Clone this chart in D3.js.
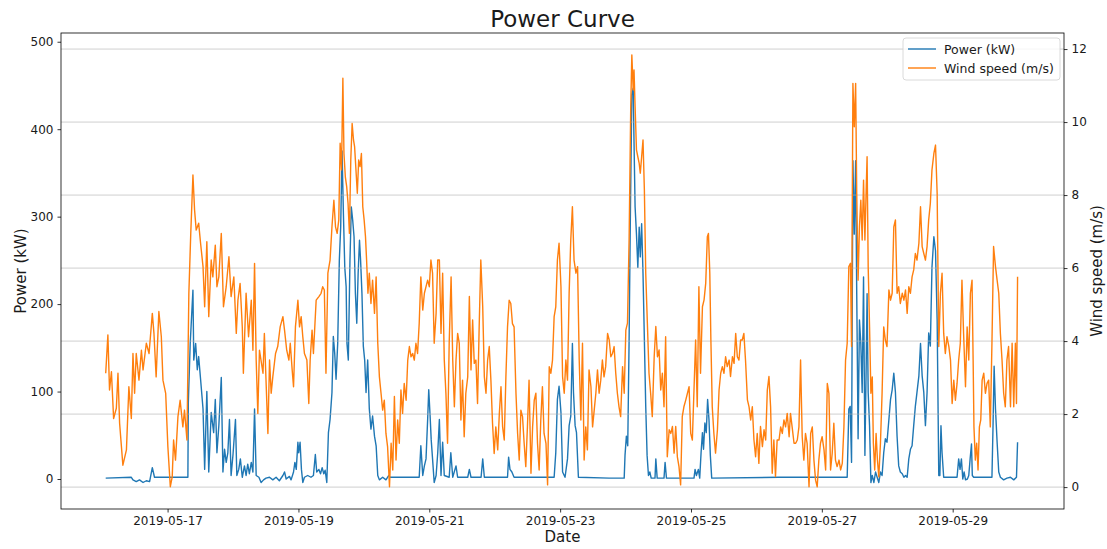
<!DOCTYPE html>
<html><head><meta charset="utf-8">
<script src="https://cdn.jsdelivr.net/npm/d3@7"></script>
<style>
body{margin:0;background:#fff}
svg{display:block}
text{font-family:"DejaVu Sans",sans-serif;fill:#1a1a1a}
</style>
</head><body>
<svg id="chart" width="1107" height="549"></svg>
<script>
// ---------------- DATA ----------------
const chartTitle = "Power Curve";
const xLabel = "Date";
const leftLabel = "Power (kW)";
const rightLabel = "Wind speed (m/s)";
const seriesNames = ["Power (kW)", "Wind speed (m/s)"];
const seriesColors = ["#1f77b4", "#ff7f0e"];
// time of every point = hours after this reference
const referenceTime = "2019-05-17T00:00:00";
const xTickLabels = ["2019-05-17","2019-05-19","2019-05-21","2019-05-23","2019-05-25","2019-05-27","2019-05-29"];
const powerTicks = [0,100,200,300,400,500];
const windTicks = [0,2,4,6,8,10,12];

// [hours after referenceTime, power kW]
const powerData = [
[-22.7,1],[-13.3,2],[-12.7,-1],[-11.5,-3],[-10.3,-1],[-9.0,-4],[-7.8,-2],[-6.6,-3],[-5.6,13],[-4.8,2],[7.45,2],[7.6,87],[8.3,155],[9.3,216],[9.6,136],[10.3,155],[10.9,125],[11.4,140],[12.1,114],[13.0,80],[13.6,11],[14.4,100],[15.1,8],[16.0,76],[16.9,53],[17.5,91],[18.1,30],[18.8,61],[19.7,116],[20.3,8],[20.9,34],[21.5,19],[22.1,30],[22.7,68],[23.3,4],[24.0,28],[24.9,68],[25.4,4],[26.1,11],[26.7,23],[27.4,2],[28.2,15],[28.8,4],[29.4,17],[30.0,6],[30.7,19],[31.3,8],[31.9,80],[32.5,4],[33.5,2],[34.3,-4],[35.2,-1],[36.1,1],
[37.4,2],[38.6,-1],[39.8,2],[41.0,-2],[42.3,4],[42.9,8],[43.5,0],[44.7,3],[45.3,-1],[46.2,8],[46.7,19],[47.2,11],[47.8,42],[48.1,30],[48.6,42],[49.1,11],[49.6,-4],[50.2,2],[51.4,4],[52.6,2],[53.5,4],[54.2,28],[54.7,8],[55.5,11],[56.1,6],[56.7,13],[57.3,6],[57.8,10],[58.4,-4],[59.0,53],[59.6,68],[60.3,99],[60.8,163],[61.3,144],[61.8,114],[62.4,155],[63.0,250],[63.5,288],[64.0,375],[64.5,303],[65.0,242],[65.5,220],[65.8,155],[66.3,136],[66.9,250],[67.4,311],[67.9,296],[68.4,277],[68.9,212],[69.4,178],[69.9,235],[70.4,273],[70.8,250],[71.3,212],[71.8,152],[72.3,136],[72.8,99],[73.4,136],[74.0,80],[74.6,57],[75.2,72],[75.9,49],[76.5,38],[77.1,4],[77.7,-1],[78.9,2],[80.1,-1],[81.1,4],[81.6,2],[92.3,2],[92.9,38],[93.6,4],[94.2,15],[94.8,23],[95.4,68],[95.8,102],[96.3,72],[96.7,45],[97.2,23],[97.8,-4],[98.5,4],[99.1,30],
[99.7,68],[100.3,4],[100.9,42],[101.5,4],[103.3,2],[103.9,30],[104.6,2],[105.8,15],[106.4,2],[110.1,2],[110.7,11],[111.3,2],[115.0,2],[115.6,23],[116.2,2],[124.7,2],[125.1,25],[125.6,11],[126.3,8],[127.1,2],[141.8,2],[142.4,30],[143.0,91],[143.6,106],[144.3,76],[144.9,8],[145.8,2],[146.7,23],[147.3,61],[147.9,72],[148.5,155],[148.9,99],[149.5,61],[150.0,53],[150.7,2],
[162.0,1],[167.5,1],[167.8,27],[168.3,49],[168.8,38],[169.3,159],[169.8,311],[170.3,439],[170.8,447],[171.1,386],[171.5,311],[172.0,280],[172.5,242],[173.0,288],[173.4,254],[173.9,292],[174.4,235],[174.9,159],[175.4,83],[175.9,27],[176.4,4],[176.9,8],[177.4,1],[178.8,1],[179.1,23],[179.6,1],[182.1,1],[182.5,19],[183.0,1],[193.1,1],[193.5,11],[194.0,4],[194.7,11],[195.2,1],[195.7,30],[196.2,53],[196.6,34],[197.1,64],[197.6,53],[198.1,91],[198.6,68],[199.1,27],[199.6,1],
[224.3,2],[249.3,2],[249.9,80],[250.4,83],[250.9,19],[251.4,364],[251.9,280],[252.4,364],[252.8,212],[253.3,46],[253.8,182],[254.3,155],[254.8,99],[255.3,231],[255.8,27],[256.3,136],[256.6,212],[257.0,99],[257.5,61],[258.0,-4],[258.5,4],[259.1,-4],[259.7,8],[260.3,2],[260.9,-4],[261.5,8],[262.1,4],[262.7,30],[263.3,46],[263.9,42],[264.6,68],[265.2,91],[265.8,102],[266.4,121],[267.0,99],[267.6,49],[268.2,15],[268.8,8],[269.5,6],[270.1,2],[270.7,4],[271.3,2],[271.9,23],[272.5,34],[273.1,38],[273.7,61],[274.3,83],[274.9,99],[275.6,118],[276.2,155],[276.8,118],[277.4,99],[278.0,61],[278.6,99],[279.2,167],[279.8,152],[280.4,242],[281.1,277],[281.7,261],[282.3,182],[282.9,4],
[283.3,4],[283.7,61],[284.1,30],[284.7,2],[289.6,2],[290.2,23],[290.7,11],[291.2,23],[291.7,0],[292.2,8],[292.7,-1],[293.4,0],[293.9,4],[294.4,23],[294.9,40],[295.2,4],[295.7,2],[302.4,2],[302.8,61],[303.2,129],[303.7,80],[304.3,42],[304.9,8],[305.5,2],[306.7,-1],[307.9,1],[309.2,2],[310.4,-1],[311.4,2],[311.8,42]
];

// [hours after referenceTime, wind speed m/s]
const windData = [
[-22.7,3.12],[-21.9,4.17],[-21.3,2.66],[-20.6,3.16],[-19.8,1.88],[-18.8,2.16],[-18.2,3.12],[-17.6,1.75],[-16.4,0.60],[-15.1,1.02],[-14.2,2.75],[-13.3,1.88],[-12.7,3.66],[-12.1,2.57],[-11.5,3.66],[-10.5,2.93],[-9.6,3.75],[-9.0,3.21],[-7.8,3.94],[-6.8,3.66],[-5.6,4.76],[-5.0,4.21],[-4.2,3.02],[-3.2,4.81],[-2.3,4.12],[-1.7,2.93],[-0.7,2.57],[0.1,1.11],[1.0,0.01],[1.7,0.28],[2.2,1.29],[2.9,0.74],[3.8,1.93],[4.6,2.38],[5.6,1.65],[6.2,2.11],[7.1,1.29],[7.8,5.31],[8.5,6.95],[9.3,8.55],[9.9,7.59],[10.5,7.04],[11.4,7.23],[12.1,6.68],[13.0,6.04],[13.6,4.94],[14.4,6.72],[15.1,4.67],[16.0,6.22],[16.6,5.76],[17.5,6.63],[18.1,5.49],[18.8,5.76],[19.7,6.95],[20.5,4.94],[21.5,5.49],[22.5,6.31],[23.3,5.22],[24.3,5.76],[25.2,4.21],[25.8,5.12],[26.6,5.58],[27.4,4.39],[27.8,3.12],[28.8,5.31],[29.7,4.12],[30.7,5.12],[31.3,3.75],[31.9,6.13],[32.5,3.48],[33.1,2.02],[33.7,3.75],[35.0,3.12],[35.5,4.21],[36.8,1.47],
[37.4,3.48],[38.0,2.57],[38.6,3.02],[39.6,3.66],[40.4,3.85],[41.3,4.39],[42.3,4.67],[42.9,4.30],[43.7,3.75],[44.5,3.48],[45.0,3.94],[45.7,3.21],[46.2,2.75],[46.9,4.39],[47.8,5.12],[48.4,4.39],[49.0,4.67],[49.6,4.12],[50.2,3.66],[51.1,3.48],[51.8,2.29],[52.3,3.48],[53.0,4.30],[53.5,3.66],[54.5,5.12],[55.5,5.22],[56.3,5.31],[56.9,5.49],[57.5,5.40],[58.1,3.12],[58.8,5.86],[59.6,6.22],[60.3,7.13],[61.0,7.86],[61.6,7.13],[62.2,6.95],[62.8,7.32],[63.3,9.42],[63.8,8.69],[64.3,11.20],[64.7,9.14],[65.2,8.50],[65.7,8.23],[66.2,7.77],[66.7,6.95],[67.2,8.96],[67.7,9.96],[68.2,9.51],[68.6,9.33],[69.1,8.69],[69.6,8.05],[70.1,8.96],[70.6,8.78],[71.1,9.14],[71.6,7.68],[72.1,7.32],[72.6,6.86],[73.0,6.22],[73.5,5.31],[74.0,5.86],[74.6,5.03],[75.2,5.67],[75.9,4.76],[76.5,5.76],[77.1,3.94],[77.7,3.02],[78.3,2.57],[78.9,2.11],[79.5,2.38],[80.1,1.47],[80.7,1.11],[81.4,0.01],[82.0,1.20],[82.6,0.47],[83.2,2.48],[83.8,0.74],[84.4,1.84],[85.0,1.20],[85.6,2.66],[86.2,2.02],[86.8,2.84],[87.5,2.38],[88.1,3.48],[88.7,3.85],[89.3,3.57],[89.9,3.66],[90.5,3.48],[91.1,3.94],[91.7,3.66],[92.3,4.48],[92.9,5.76],[93.6,4.85],[94.2,5.31],[94.8,5.49],[95.4,5.67],[96.0,5.49],[96.6,6.22],[97.2,5.86],[97.8,3.94],[98.5,4.76],[99.1,6.22],
[99.7,6.22],[100.3,4.21],[100.9,5.86],[101.5,3.48],[102.1,2.57],[102.7,1.20],[103.3,3.94],[104.0,5.76],[104.6,3.48],[105.2,2.20],[105.8,3.48],[106.4,4.21],[107.0,3.94],[107.6,1.84],[108.2,2.93],[108.8,1.38],[109.4,2.57],[110.1,3.02],[110.7,5.22],[111.3,3.21],[111.9,4.58],[112.5,3.39],[113.1,3.48],[113.7,2.29],[114.3,4.39],[114.9,6.22],[115.6,4.94],[116.2,3.02],[116.8,2.57],[117.4,3.48],[118.0,3.85],[118.6,2.93],[119.2,1.75],[119.8,0.92],[120.4,1.65],[121.1,1.02],[121.7,2.02],[122.3,2.75],[122.9,1.65],[123.5,1.29],[124.1,3.02],[124.7,4.39],[125.3,5.12],[125.9,5.03],[126.5,4.48],[127.1,4.39],[127.8,2.57],[128.4,1.47],[129.0,0.74],[129.6,2.11],[130.2,1.93],[130.8,1.20],[131.4,0.56],[132.0,1.65],[132.6,2.93],[133.3,0.38],[133.9,1.65],[134.5,2.38],[135.1,2.57],[135.7,1.20],[136.3,0.47],[136.9,1.84],[137.5,2.75],[138.1,1.47],[138.8,1.20],[139.4,0.06],[140.0,3.30],[140.6,3.12],[141.2,3.48],[141.8,4.67],[142.4,4.94],[143.0,6.22],[143.6,6.68],[144.3,5.49],[144.9,3.02],[145.5,2.57],[146.1,3.48],[146.7,2.93],[147.3,5.31],[147.9,6.77],[148.5,7.68],[149.1,6.22],[149.8,5.86],[150.4,6.04],[151.0,3.48],[151.6,1.84],[152.2,3.94],[152.8,0.74],[153.4,1.65],[154.0,1.02],[154.6,3.21],[155.3,2.75],[155.9,1.65],[156.5,2.11],[157.1,2.57],[157.7,3.21],[158.3,2.57],[158.9,2.93],[159.5,3.48],[160.1,3.02],[160.7,3.30],[161.4,4.21],
[162.0,4.03],[162.6,3.57],[163.2,3.66],[163.8,3.85],[164.4,3.12],[165.0,2.57],[165.6,2.20],[166.2,1.93],[166.9,3.30],[167.5,2.57],[168.1,4.30],[168.7,4.49],[169.3,6.77],[169.9,10.42],[170.3,11.84],[170.8,10.88],[171.1,11.43],[171.5,10.42],[172.0,9.24],[172.5,9.05],[173.0,8.87],[173.4,8.60],[173.9,9.05],[174.4,9.51],[174.9,8.14],[175.4,5.86],[176.0,4.49],[176.6,3.12],[177.2,2.57],[177.8,1.93],[178.5,3.57],[179.1,4.40],[179.7,3.57],[180.3,3.76],[180.9,2.66],[181.5,3.12],[182.1,2.20],[182.7,4.12],[183.3,0.83],[184.0,1.57],[184.6,1.47],[185.2,1.66],[185.8,0.93],[186.4,1.66],[187.0,0.83],[187.6,0.56],[188.2,0.06],[188.8,1.93],[189.4,2.20],[190.1,2.39],[190.7,2.57],[191.3,2.75],[191.9,1.47],[192.5,1.29],[193.1,2.66],[193.7,4.03],[194.3,2.20],[194.9,5.49],[195.5,3.12],[196.2,4.94],[196.8,5.13],[197.4,5.58],[198.0,6.86],[198.4,6.95],[198.9,5.86],[199.3,4.03],[199.8,2.20],[200.4,1.47],[201.0,0.93],[201.7,1.57],[202.3,2.66],[202.9,3.12],[203.5,3.30],[204.1,3.12],[204.7,3.57],[205.3,3.30],[206.0,3.48],[206.5,3.03],[207.2,3.57],[207.8,3.39],[208.4,4.21],[209.0,3.57],[209.6,3.48],[210.2,4.03],[210.8,4.03],[211.4,4.21],[212.0,3.48],[212.7,2.39],[213.3,2.20],[213.9,1.84],[214.5,2.20],[215.1,1.29],[215.7,0.83],[216.3,1.47],[216.9,0.65],[217.5,1.66],[218.2,1.11],[218.8,1.57],[219.4,1.29],[220.0,2.66],[220.6,3.03],[221.2,2.20],[221.8,0.38],[222.4,1.29],[223.0,0.29],[223.6,1.29],
[224.3,1.29],[224.9,1.65],[225.5,1.47],[226.1,1.84],[226.7,1.65],[227.3,2.02],[228.0,1.38],[228.5,2.02],[229.1,1.65],[229.8,1.20],[230.4,1.20],[231.0,1.29],[231.6,1.65],[232.2,3.48],[232.8,1.38],[233.4,0.74],[234.0,1.47],[234.6,1.20],[235.3,0.01],[235.9,1.47],[236.5,1.65],[237.1,0.74],[237.7,0.19],[238.3,0.01],[238.9,0.74],[239.5,1.20],[240.1,1.38],[240.8,1.02],[241.4,0.47],[242.0,2.84],[242.6,2.57],[243.2,0.47],[243.8,0.92],[244.4,1.75],[245.0,0.74],[245.6,0.56],[246.3,0.74],[246.9,0.47],[247.5,0.65],[248.1,1.65],[248.7,3.48],[249.3,3.94],[249.9,6.04],[250.5,6.13],[250.9,3.85],[251.4,11.06],[251.9,9.87],[252.4,11.06],[252.8,8.05],[253.3,5.67],[253.8,7.13],[254.3,7.86],[254.8,6.77],[255.3,8.41],[255.8,6.77],[256.3,8.23],[256.6,9.05],[257.0,6.04],[257.5,4.39],[258.0,2.57],[258.5,3.02],[258.9,1.20],[259.4,0.47],[259.9,1.47],[260.4,0.74],[260.9,0.28],[261.5,1.20],[262.1,2.57],[262.7,4.39],[263.3,4.03],[263.9,3.85],[264.6,5.40],[265.2,5.12],[265.8,5.31],[266.4,7.13],[267.0,7.32],[267.6,5.31],[268.2,5.49],[268.8,5.03],[269.5,5.31],[270.1,5.12],[270.7,5.40],[271.3,4.76],[271.9,5.49],[272.5,5.31],[273.1,5.76],[273.7,5.95],[274.3,6.40],[274.9,6.22],[275.6,6.68],[276.2,7.68],[276.8,6.59],[277.4,6.40],[278.0,6.22],[278.6,6.59],[279.2,7.32],[279.8,7.77],[280.4,8.69],[281.1,9.14],[281.7,9.37],[282.3,8.05],[282.9,3.85],
[283.5,5.31],[284.1,5.86],[284.7,4.21],[285.3,3.66],[285.9,4.12],[286.6,3.85],[287.2,3.48],[287.8,2.29],[288.4,2.93],[289.0,2.38],[289.6,2.84],[290.2,3.48],[290.8,3.94],[291.4,5.67],[292.0,4.21],[292.7,2.75],[293.3,4.39],[293.9,3.48],[294.5,5.31],[295.1,5.67],[295.5,3.48],[295.8,1.65],[296.3,0.74],[296.8,1.20],[297.3,0.47],[297.8,1.65],[298.3,1.84],[298.8,2.93],[299.4,3.12],[300.0,2.57],[300.6,2.84],[301.2,2.93],[301.8,1.65],[302.4,3.94],[303.0,6.59],[303.7,6.04],[304.3,5.67],[304.9,5.31],[305.5,4.21],[306.1,3.48],[306.7,2.57],[307.3,2.20],[307.9,3.48],[308.5,3.85],[309.2,2.20],[309.8,3.94],[310.4,2.20],[311.0,3.94],[311.4,2.29],[311.8,5.76]
];

// ---------------- CHART ----------------
const plot = {left: 61, right: 1064, top: 33, bottom: 509};
const svg = d3.select("#chart");
const parseDay = d3.timeParse("%Y-%m-%d");
const ref = new Date(referenceTime);
const toDate = h => d3.timeMinute.offset(ref, Math.round(h * 60));

const x = d3.scaleTime()
  .domain([new Date("2019-05-15T08:54:00"), new Date("2019-05-30T16:50:00")])
  .range([plot.left, plot.right]);
const yP = d3.scaleLinear().domain([-34.3, 510]).range([plot.bottom, plot.top]);
const yW = d3.scaleLinear().domain([-0.60, 12.44]).range([plot.bottom, plot.top]);

svg.append("clipPath").attr("id","clip").append("rect")
  .attr("x", plot.left).attr("y", plot.top)
  .attr("width", plot.right - plot.left).attr("height", plot.bottom - plot.top);

// power line (left axis)
const linePower = d3.line().x(d => x(toDate(d[0]))).y(d => yP(d[1]));
svg.append("path").datum(powerData)
  .attr("clip-path","url(#clip)")
  .attr("d", linePower).attr("fill","none")
  .attr("stroke", seriesColors[0]).attr("stroke-width",1.4)
  .attr("stroke-linejoin","round");

// grid (right axis)
svg.append("g").selectAll("line").data(windTicks).join("line")
  .attr("x1", plot.left).attr("x2", plot.right)
  .attr("y1", d => yW(d)).attr("y2", d => yW(d))
  .attr("stroke","#b0b0b0").attr("stroke-width",0.8).attr("opacity",0.75);

// wind line (right axis)
const lineWind = d3.line().x(d => x(toDate(d[0]))).y(d => yW(d[1]));
svg.append("path").datum(windData)
  .attr("clip-path","url(#clip)")
  .attr("d", lineWind).attr("fill","none")
  .attr("stroke", seriesColors[1]).attr("stroke-width",1.4)
  .attr("stroke-linejoin","round");

// axes
function styleAxis(g){
  g.select(".domain").remove();
  g.selectAll(".tick line").attr("stroke","#000").attr("stroke-width",0.8);
  g.selectAll(".tick text").attr("font-size","12px").attr("font-family","DejaVu Sans, sans-serif").attr("fill","#1a1a1a");
}
const xAxis = d3.axisBottom(x)
  .tickValues(xTickLabels.map(parseDay))
  .tickFormat(d3.timeFormat("%Y-%m-%d"))
  .tickSize(3.5).tickPadding(4);
svg.append("g").attr("transform",`translate(0,${plot.bottom})`).call(xAxis).call(styleAxis);

const leftAxis = d3.axisLeft(yP).tickValues(powerTicks).tickFormat(d3.format("d")).tickSize(3.5).tickPadding(4);
svg.append("g").attr("transform",`translate(${plot.left},0)`).call(leftAxis).call(styleAxis);

const rightAxis = d3.axisRight(yW).tickValues(windTicks).tickFormat(d3.format("d")).tickSize(3.5).tickPadding(4);
svg.append("g").attr("transform",`translate(${plot.right},0)`).call(rightAxis).call(styleAxis);

// frame
svg.append("rect").attr("x",plot.left).attr("y",plot.top)
  .attr("width",plot.right-plot.left).attr("height",plot.bottom-plot.top)
  .attr("fill","none").attr("stroke","#000").attr("stroke-width",0.8);

// titles
svg.append("text").attr("x",(plot.left+plot.right)/2).attr("y",27)
  .attr("text-anchor","middle").attr("font-size","23px").text(chartTitle);
svg.append("text").attr("x",(plot.left+plot.right)/2).attr("y",542)
  .attr("text-anchor","middle").attr("font-size","15px").text(xLabel);
svg.append("text").attr("transform",`translate(26,${(plot.top+plot.bottom)/2}) rotate(-90)`)
  .attr("text-anchor","middle").attr("font-size","15px").text(leftLabel);
svg.append("text").attr("transform",`translate(1102,${(plot.top+plot.bottom)/2}) rotate(-90)`)
  .attr("text-anchor","middle").attr("font-size","15px").text(rightLabel);

// legend
const leg = svg.append("g");
leg.append("rect").attr("x",903).attr("y",38).attr("width",157).attr("height",42)
  .attr("rx",3).attr("fill","#fff").attr("fill-opacity",0.8)
  .attr("stroke","#d0d0d0").attr("stroke-width",0.8);
seriesNames.forEach((name,i) => {
  const yy = 49 + i*19;
  leg.append("line").attr("x1",908).attr("x2",936).attr("y1",yy).attr("y2",yy)
    .attr("stroke",seriesColors[i]).attr("stroke-width",1.4);
  leg.append("text").attr("x",944).attr("y",yy).attr("dy","0.36em")
    .attr("font-size","12.5px").text(name);
});
</script>
</body></html>
